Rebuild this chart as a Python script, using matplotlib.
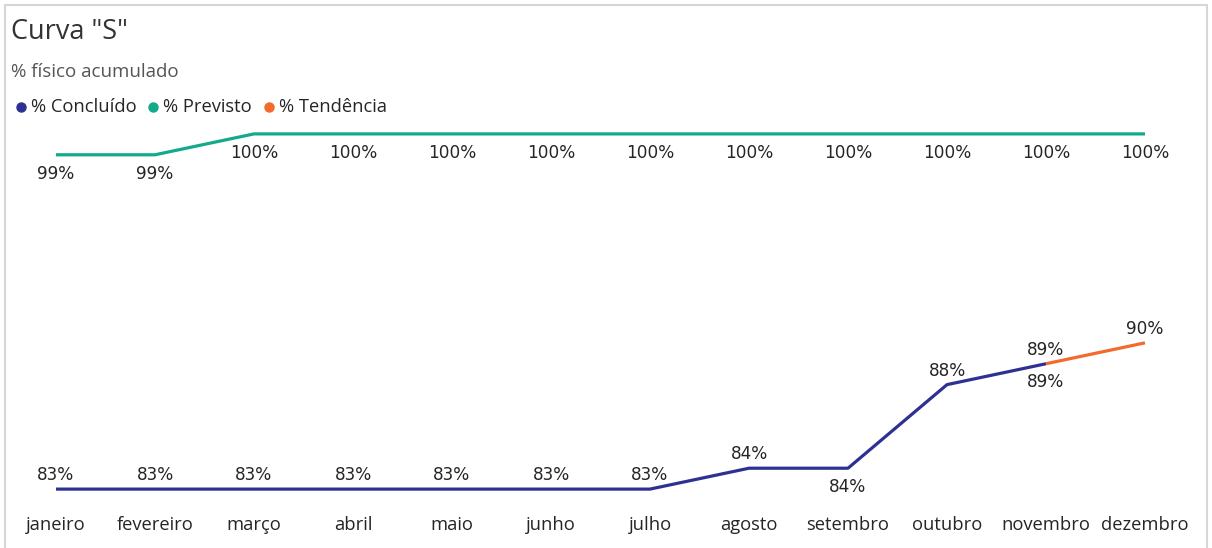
import numpy as np
import matplotlib.pyplot as plt
from matplotlib.patches import Rectangle
from matplotlib.lines import Line2D

# ── data ───────────────────────────────────────────────────────────────────────
meses = ["janeiro", "fevereiro", "março", "abril", "maio", "junho",
         "julho", "agosto", "setembro", "outubro", "novembro", "dezembro"]
concluido = [83, 83, 83, 83, 83, 83, 83, 84, 84, 88, 89, np.nan]
previsto  = [99, 99, 100, 100, 100, 100, 100, 100, 100, 100, 100, 100]
tendencia = [np.nan] * 10 + [89, 90]

# label placement (+1 above the point, -1 below, 0 none)
pos_concluido = [1, 1, 1, 1, 1, 1, 1, 1, -1, 1, 1, 0]
pos_previsto  = [-1] * 12
pos_tendencia = [0] * 10 + [-1, 1]

C_CONC = "#2e3192"
C_PREV = "#14a98b"
C_TEND = "#f26b2a"
TXT = "#252525"

plt.rcParams["font.family"] = ["Open Sans", "DejaVu Sans"]

fig = plt.figure(figsize=(12.12, 5.48), dpi=100)
W, H = 1212, 548

# panel frame
fig.patches.append(Rectangle((5 / W, -0.01), (1207 - 5) / W, 1 - 5 / H + 0.01,
                             transform=fig.transFigure, fill=False,
                             edgecolor="#d6d6d6", linewidth=1.5))

ax = fig.add_axes([6.5 / W, (548 - 510) / H, (1194.5 - 6.5) / W, (510 - 113) / H])
x = np.arange(len(meses))

ax.plot(x, previsto, color=C_PREV, lw=2.3, solid_capstyle="butt")
ax.plot(x, concluido, color=C_CONC, lw=2.3, solid_capstyle="butt")
ax.plot(x, tendencia, color=C_TEND, lw=2.3, solid_capstyle="butt")


def labels(vals, pos):
    for i, (v, p) in enumerate(zip(vals, pos)):
        if p == 0 or np.isnan(v):
            continue
        dy = 10 if p > 0 else -13.5
        ax.annotate(f"{v:.0f}%", (i, v), xytext=(0, dy), textcoords="offset points",
                    ha="center", va="center", fontsize=12.2, color=TXT,
                    family="DejaVu Sans")


labels(previsto, pos_previsto)
labels(concluido, pos_concluido)
labels(tendencia, pos_tendencia)

ax.set_xlim(-0.5, 11.5)
ax.set_ylim(82, 101)
ax.set_xticks(x)
ax.set_xticklabels(meses, fontsize=13.2, color=TXT)
ax.tick_params(axis="x", length=0, pad=4)
ax.set_yticks([])
for s in ax.spines.values():
    s.set_visible(False)
ax.patch.set_alpha(0)

# title, subtitle, legend
fig.text(11 / W, 1 - 32 / H, 'Curva "S"', fontsize=19.5, color="#333333",
         va="center", ha="left")
fig.text(11 / W, 1 - 72 / H, "% físico acumulado", fontsize=13.5, color="#555555",
         va="center", ha="left")

leg_items = [("% Concluído", C_CONC, 21), ("% Previsto", C_PREV, 153), ("% Tendência", C_TEND, 269)]
for name, col, px in leg_items:
    fig.add_artist(Line2D([px / W], [1 - 107 / H], marker="o", ms=6.5, color=col,
                          linestyle="none", transform=fig.transFigure))
    fig.text((px + 10) / W, 1 - 107 / H, name, fontsize=13.2, color=TXT,
             va="center", ha="left")

fig.savefig("out.png", dpi=100)
